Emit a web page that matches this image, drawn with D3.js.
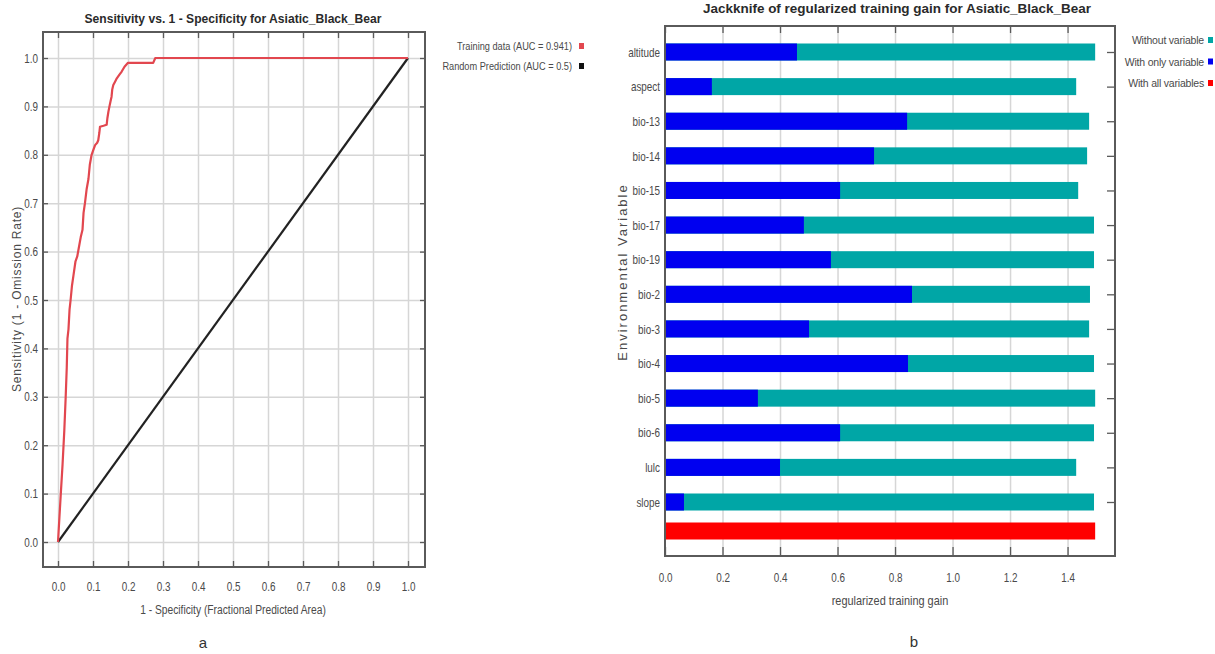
<!DOCTYPE html>
<html><head><meta charset="utf-8">
<script src="https://cdn.jsdelivr.net/npm/d3@7"></script>
<style>body{margin:0;background:#fff} svg{display:block}</style>
</head><body><svg id="c" width="1215" height="654"></svg>
<script>
// ---- ROC (panel a) ----
const rocFPR = [0,0.004,0.008,0.013,0.018,0.022,0.025,0.027,0.030,0.033,0.036,0.040,0.044,0.050,0.055,0.060,0.065,0.070,0.073,0.077,0.082,0.087,0.091,0.096,0.101,0.106,0.112,0.115,0.118,0.120,0.130,0.139,0.141,0.144,0.147,0.150,0.153,0.155,0.158,0.163,0.168,0.175,0.182,0.190,0.200,0.272,0.278,1.0];
const rocTPR = [0,0.05,0.10,0.16,0.23,0.30,0.36,0.42,0.44,0.48,0.50,0.53,0.55,0.58,0.59,0.61,0.63,0.645,0.68,0.70,0.73,0.75,0.78,0.80,0.81,0.82,0.825,0.83,0.845,0.858,0.86,0.862,0.875,0.889,0.90,0.91,0.92,0.935,0.944,0.951,0.958,0.965,0.972,0.982,0.99,0.99,1.0,1.0];
const randomFPR = [0,1];
const randomTPR = [0,1];
const rocTicks = [0,0.1,0.2,0.3,0.4,0.5,0.6,0.7,0.8,0.9,1.0];
const rocLegend = ["Training data (AUC = 0.941)","Random Prediction (AUC = 0.5)"];
const rocTitle = "Sensitivity vs. 1 - Specificity for Asiatic_Black_Bear";
const rocXLabel = "1 - Specificity  (Fractional Predicted Area)";
const rocYLabel = "Sensitivity  (1 - Omission Rate)";

// ---- Jackknife (panel b) ----
const variables = ["altitude","aspect","bio-13","bio-14","bio-15","bio-17","bio-19","bio-2","bio-3","bio-4","bio-5","bio-6","lulc","slope"];
const gainWithout = [1.496,1.430,1.475,1.468,1.437,1.492,1.492,1.478,1.475,1.492,1.496,1.492,1.430,1.492];
const gainOnly = [0.459,0.163,0.842,0.727,0.609,0.483,0.577,0.859,0.501,0.845,0.323,0.609,0.400,0.066];
const gainAll = 1.496;
const gainTicks = [0,0.2,0.4,0.6,0.8,1.0,1.2,1.4];
const jackLegend = ["Without variable","With only variable","With all variables"];
const jackTitle = "Jackknife of regularized training gain for Asiatic_Black_Bear";
const jackXLabel = "regularized training gain";
const jackYLabel = "Environmental Variable";

const SANS = "'Liberation Sans',Arial,sans-serif";
const svg = d3.select("#c");
const TXT = "#4a4a4a", GRID = "#d6d6d6", FRAME = "#5a5a5a";
const fmt = d3.format(".1f");

// emulate a narrow typeface by compressing glyphs horizontally
function narrow(sel, f){
  sel.each(function(){
    const w = this.getComputedTextLength();
    if (w > 0) d3.select(this).attr("textLength", w*f).attr("lengthAdjust","spacingAndGlyphs");
  });
}
function styleAxis(g, color, fs){
  g.select(".domain").remove();
  g.selectAll(".tick line").attr("stroke", color).attr("stroke-width",1.3);
  g.selectAll(".tick text").attr("fill",TXT).style("font-family",SANS).style("font-size",fs+"px");
  narrow(g.selectAll(".tick text"), 0.76);
}

// ================= Panel a =================
(function(){
  const L=43,R=425,T=32,B=567;
  const x = d3.scaleLinear().domain([0,1]).range([58,408]);
  const y = d3.scaleLinear().domain([0,1]).range([542,58]);
  const g = svg.append("g");
  g.append("g").attr("transform",`translate(0,${B})`)
    .call(d3.axisBottom(x).tickValues(rocTicks).tickSize(-(B-T)).tickFormat(""))
    .call(a=>{a.select(".domain").remove();a.selectAll("line").attr("stroke",GRID).attr("stroke-width",1.5);});
  g.append("g").attr("transform",`translate(${L},0)`)
    .call(d3.axisLeft(y).tickValues(rocTicks).tickSize(-(R-L)).tickFormat(""))
    .call(a=>{a.select(".domain").remove();a.selectAll("line").attr("stroke",GRID).attr("stroke-width",1.5);});
  g.append("rect").attr("x",L).attr("y",T).attr("width",R-L).attr("height",B-T)
    .attr("fill","none").attr("stroke",FRAME).attr("stroke-width",2);
  g.append("g").attr("transform",`translate(0,${B})`)
    .call(d3.axisBottom(x).tickValues(rocTicks).tickFormat(fmt).tickSize(-6).tickPadding(15))
    .call(a=>styleAxis(a,FRAME,13));
  g.append("g").attr("transform",`translate(0,${T})`)
    .call(d3.axisTop(x).tickValues(rocTicks).tickFormat("").tickSize(-6))
    .call(a=>styleAxis(a,FRAME,13));
  g.append("g").attr("transform",`translate(${L},0)`)
    .call(d3.axisLeft(y).tickValues(rocTicks).tickFormat(fmt).tickSize(-5).tickPadding(5))
    .call(a=>styleAxis(a,FRAME,13));
  g.append("g").attr("transform",`translate(${R},0)`)
    .call(d3.axisRight(y).tickValues(rocTicks).tickFormat("").tickSize(-5))
    .call(a=>styleAxis(a,FRAME,13));
  const line = d3.line().x(d=>x(d[0])).y(d=>y(d[1]));
  g.append("path").datum(randomFPR.map((v,i)=>[v,randomTPR[i]]))
    .attr("d",line).attr("fill","none").attr("stroke","#222").attr("stroke-width",2.2);
  g.append("path").datum(rocFPR.map((v,i)=>[v,rocTPR[i]]))
    .attr("d",line).attr("fill","none").attr("stroke","#e2474f").attr("stroke-width",2.2).attr("stroke-linejoin","round");
  g.append("text").attr("x",233).attr("y",23).attr("text-anchor","middle")
    .attr("textLength",297).attr("lengthAdjust","spacingAndGlyphs")
    .style("font-family",SANS).style("font-size","13.5px").style("font-weight","bold").attr("fill","#2a2a2a").text(rocTitle);
  narrow(g.append("text").attr("x",233).attr("y",614).attr("text-anchor","middle")
    .style("font-family",SANS).style("font-size","12.5px").attr("fill",TXT).text(rocXLabel), 0.82);
  g.append("text").attr("transform","translate(21,299) rotate(-90)").attr("text-anchor","middle")
    .style("letter-spacing","0.8px")
    .style("font-family",SANS).style("font-size","12px").attr("fill",TXT).text(rocYLabel);
  const cols = ["#e2474f","#111"];
  rocLegend.forEach((t,i)=>{
    const yy = 46 + i*20;
    narrow(g.append("text").attr("x",572).attr("y",yy+4).attr("text-anchor","end")
      .style("font-family",SANS).style("font-size","11.5px").attr("fill",TXT).text(t), 0.8);
    g.append("rect").attr("x",579).attr("y",yy-3).attr("width",5).attr("height",6).attr("fill",cols[i]);
  });
  g.append("text").attr("x",203).attr("y",648).attr("text-anchor","middle")
    .style("font-family",SANS).style("font-size","15px").attr("fill","#333").text("a");
})();

// ================= Panel b =================
(function(){
  const L=665,R=1115,T=26,B=556;
  const x = d3.scaleLinear().domain([0,1.565]).range([L,R]);
  const y = d3.scalePoint().domain(variables).range([52,502]);
  const bh = 17;
  const allY = y.range()[1] + 29;
  const g = svg.append("g");
  g.append("g").attr("transform",`translate(0,${B})`)
    .call(d3.axisBottom(x).tickValues(gainTicks.slice(1)).tickSize(-(B-T)).tickFormat(""))
    .call(a=>{a.select(".domain").remove();a.selectAll("line").attr("stroke",GRID).attr("stroke-width",1.5);});
  g.append("rect").attr("x",L).attr("y",T).attr("width",R-L).attr("height",B-T)
    .attr("fill","none").attr("stroke",FRAME).attr("stroke-width",2);
  g.append("g").attr("transform",`translate(0,${B})`)
    .call(d3.axisBottom(x).tickValues(gainTicks).tickFormat(fmt).tickSize(-9).tickPadding(17))
    .call(a=>styleAxis(a,FRAME,13));
  g.append("g").attr("transform",`translate(0,${T})`)
    .call(d3.axisTop(x).tickValues(gainTicks).tickFormat("").tickSize(-7))
    .call(a=>styleAxis(a,FRAME,13));
  g.append("g").attr("transform",`translate(${R},0)`)
    .call(d3.axisRight(y).tickFormat("").tickSize(-8))
    .call(a=>styleAxis(a,FRAME,13));
  g.append("g").attr("transform",`translate(${L},0)`)
    .call(d3.axisLeft(y).tickSize(0).tickPadding(5))
    .call(a=>styleAxis(a,FRAME,13));
  g.selectAll(".wo").data(variables).join("rect").attr("class","wo")
    .attr("x",x(0)).attr("y",d=>y(d)-bh/2).attr("height",bh)
    .attr("width",(d,i)=>x(gainWithout[i])-x(0)).attr("fill","#00a6a6");
  g.selectAll(".wi").data(variables).join("rect").attr("class","wi")
    .attr("x",x(0)).attr("y",d=>y(d)-bh/2).attr("height",bh)
    .attr("width",(d,i)=>x(gainOnly[i])-x(0)).attr("fill","#0000f0");
  g.append("rect").attr("x",x(0)).attr("y",allY-bh/2).attr("height",bh)
    .attr("width",x(gainAll)-x(0)).attr("fill","#ff0000");
  g.append("line").attr("x1",L).attr("x2",L).attr("y1",T).attr("y2",B).attr("stroke",FRAME).attr("stroke-width",2);
  g.append("text").attr("x",897).attr("y",13).attr("text-anchor","middle")
    .attr("textLength",388).attr("lengthAdjust","spacingAndGlyphs")
    .style("font-family",SANS).style("font-size","13.5px").style("font-weight","bold").attr("fill","#2a2a2a").text(jackTitle);
  narrow(g.append("text").attr("x",890).attr("y",605).attr("text-anchor","middle")
    .style("font-family",SANS).style("font-size","13px").attr("fill",TXT).text(jackXLabel), 0.84);
  g.append("text").attr("transform","translate(627,272) rotate(-90)").attr("text-anchor","middle")
    .style("letter-spacing","2px")
    .style("font-family",SANS).style("font-size","13px").attr("fill",TXT).text(jackYLabel);
  const cols = ["#00a6a6","#0000f0","#ff0000"];
  jackLegend.forEach((t,i)=>{
    const yy = 40 + i*21.5;
    g.append("text").attr("x",1204).attr("y",yy+4).attr("text-anchor","end")
      .style("font-family",SANS).style("font-size","10.5px").style("letter-spacing","-0.2px")
      .attr("fill",TXT).text(t);
    g.append("rect").attr("x",1208).attr("y",yy-3).attr("width",5).attr("height",6).attr("fill",cols[i]);
  });
  g.append("text").attr("x",914).attr("y",647).attr("text-anchor","middle")
    .style("font-family",SANS).style("font-size","15px").attr("fill","#333").text("b");
})();
</script></body></html>
